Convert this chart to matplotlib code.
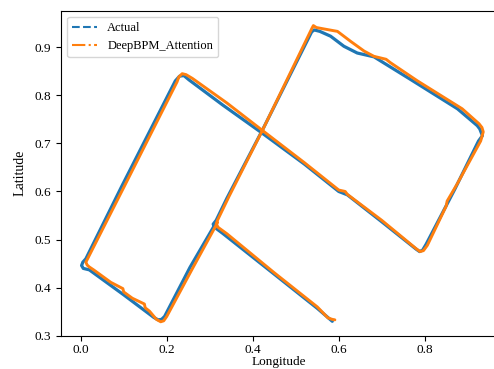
import matplotlib
matplotlib.use("Agg")
import matplotlib.pyplot as plt
from matplotlib.lines import Line2D

# trajectory (normalised lon / lat)
actual_lon = [0.312, 0.254, 0.195, 0.188, 0.180, 0.170, 0.100, 0.020, 0.006, 0.002,
              0.005, 0.012, 0.095, 0.220, 0.230, 0.240, 0.252, 0.330, 0.421, 0.520,
              0.600, 0.620, 0.700, 0.780, 0.788, 0.795, 0.803, 0.870, 0.925, 0.934,
              0.928, 0.922, 0.876, 0.767, 0.682, 0.643, 0.612, 0.581, 0.556, 0.543,
              0.537, 0.421, 0.340, 0.315, 0.308, 0.312, 0.330, 0.450, 0.550, 0.585]
actual_lat = [0.531, 0.442, 0.340, 0.334, 0.333, 0.338, 0.385, 0.437, 0.440, 0.446,
              0.453, 0.460, 0.610, 0.830, 0.840, 0.841, 0.832, 0.780, 0.722, 0.657,
              0.600, 0.593, 0.537, 0.480, 0.475, 0.478, 0.490, 0.605, 0.705, 0.716,
              0.730, 0.737, 0.772, 0.833, 0.880, 0.888, 0.902, 0.923, 0.933, 0.936,
              0.932, 0.725, 0.586, 0.540, 0.532, 0.525, 0.513, 0.428, 0.357, 0.330]

pred_lon = [0.318, 0.260, 0.200, 0.193, 0.186, 0.176, 0.160, 0.150, 0.148, 0.120,
            0.100, 0.098, 0.070, 0.050, 0.030, 0.020, 0.015, 0.012, 0.016, 0.101,
            0.224, 0.228, 0.236, 0.245, 0.260, 0.340, 0.421, 0.520, 0.600, 0.615,
            0.620, 0.700, 0.780, 0.789, 0.797, 0.806, 0.850, 0.852, 0.875, 0.930,
            0.936, 0.933, 0.926, 0.887, 0.783, 0.720, 0.710, 0.682, 0.659, 0.628,
            0.597, 0.566, 0.548, 0.541, 0.538, 0.423, 0.345, 0.318, 0.315, 0.320,
            0.340, 0.450, 0.550, 0.575, 0.585, 0.591]
pred_lat = [0.535, 0.440, 0.340, 0.331, 0.329, 0.334, 0.351, 0.358, 0.366, 0.378,
            0.391, 0.398, 0.411, 0.424, 0.437, 0.443, 0.447, 0.453, 0.460, 0.610,
            0.828, 0.838, 0.845, 0.843, 0.835, 0.784, 0.728, 0.660, 0.603, 0.600,
            0.594, 0.540, 0.481, 0.475, 0.477, 0.488, 0.570, 0.580, 0.615, 0.705,
            0.724, 0.733, 0.741, 0.772, 0.830, 0.868, 0.875, 0.881, 0.892, 0.912,
            0.933, 0.938, 0.941, 0.945, 0.940, 0.728, 0.590, 0.540, 0.532, 0.525,
            0.512, 0.431, 0.360, 0.337, 0.334, 0.333]

series_labels = ["Actual", "DeepBPM_Attention"]
series_colors = ["#1f77b4", "#ff7f0e"]
series_styles = ["--", "-."]

plt.rcParams["font.family"] = ["Liberation Serif", "DejaVu Serif"]

fig = plt.figure(figsize=(4.94, 3.69), dpi=100)
ax = fig.add_axes([0.1235, 0.0902, 0.8826, 0.8808])

ax.plot(actual_lon, actual_lat, color=series_colors[0], lw=2.3, solid_capstyle="round")
ax.plot(pred_lon, pred_lat, color=series_colors[1], lw=2.1, solid_capstyle="round")

ax.set_xlim(-0.0458, 0.968)
ax.set_ylim(0.3, 0.976)
ax.set_xticks([0.0, 0.2, 0.4, 0.6, 0.8])
ax.set_yticks([0.3, 0.4, 0.5, 0.6, 0.7, 0.8, 0.9])
ax.tick_params(labelsize=9.5)
ax.tick_params(axis="x", pad=2.5)
ax.set_xlabel("Longitude", fontsize=9.5, labelpad=0)
ax.set_ylabel("Latitude", fontsize=10, labelpad=6)

handles = [Line2D([], [], color=c, ls=s, lw=1.5) for c, s in zip(series_colors, series_styles)]
ax.legend(handles, series_labels, loc="upper left", fontsize=9)

fig.savefig("out.png", dpi=100)
